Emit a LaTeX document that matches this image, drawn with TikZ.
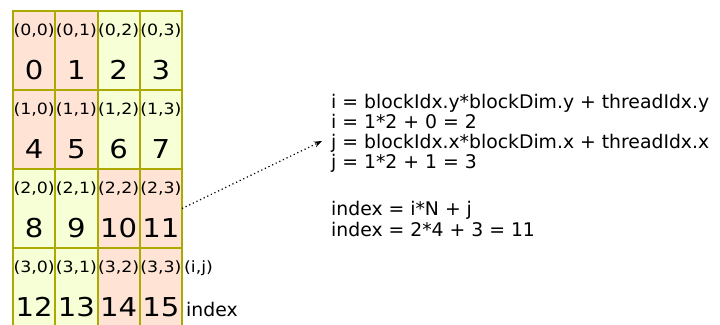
\documentclass[tikz,border=0pt]{standalone}
\usepackage{fontspec}
\setmainfont{DejaVu Sans}
\newfontfamily\gridfont[FakeStretch=1.12]{DejaVu Sans}
\usetikzlibrary{arrows.meta}
\definecolor{cellpink}{HTML}{FFE4D6}
\definecolor{cellgreen}{HTML}{F6FFD6}
\definecolor{gridline}{HTML}{AAAA00}
\begin{document}
\begin{tikzpicture}[x=1pt,y=-1pt,
  cell/.style={draw=gridline, line width=2pt, minimum width=42.25pt, minimum height=79pt, inner sep=0pt, outer sep=0pt},
  coordlab/.style={anchor=base, font=\gridfont\fontsize{15.5}{17}\selectfont, inner sep=0pt},
  idxlab/.style={anchor=base, font=\gridfont\fontsize{26}{28}\selectfont, inner sep=0pt},
  eqline/.style={anchor=base west, font=\fontsize{18.8}{22}\selectfont, inner sep=0pt},
  pointer/.style={line width=1.2pt, dash pattern=on 1.2pt off 2.8pt, -{Stealth[length=8pt,width=6pt]}}]
\useasboundingbox (0,0) rectangle (720,324);
\clip (0,0) rectangle (720,324);
\foreach \r in {0,1,2,3}{
  \foreach \c in {0,1,2,3}{
    \pgfmathtruncatemacro{\n}{4*\r+\c}
    \pgfmathtruncatemacro{\pk}{(\r<2)==(\c<2)}
    \ifnum\pk=1 \def\fc{cellpink}\else\def\fc{cellgreen}\fi
    \node[cell, fill=\fc] (c\n) at ({13+42.25*\c+21.125},{11+79*\r+39.5}) {};
    \node[coordlab] (p\n) at ({13+42.25*\c+21.125},{11+79*\r+24}) {(\r,\c)};
    \node[idxlab] (v\n) at ({13+42.25*\c+21.125},{11+79*\r+68.5}) {\n};
  }
}
\node[coordlab, anchor=base west] (ijlab) at (184,272) {(i,j)};
\node[eqline] (idxword) at (186,316) {index};
\node[eqline] (l1) at (331,108) {i = blockIdx.y*blockDim.y + threadIdx.y};
\node[eqline] (l2) at (331,128) {i = 1*2 + 0 = 2};
\node[eqline] (l3) at (331,148) {j = blockIdx.x*blockDim.x + threadIdx.x};
\node[eqline] (l4) at (331,168) {j = 1*2 + 1 = 3};
\node[eqline] (l5) at (331,215.5) {index = i*N + j};
\node[eqline] (l6) at (331,236) {index = 2*4 + 3 = 11};
\coordinate (tip) at (322,141);
\draw[pointer] (c11.east) -- (tip);
\end{tikzpicture}
\end{document}
